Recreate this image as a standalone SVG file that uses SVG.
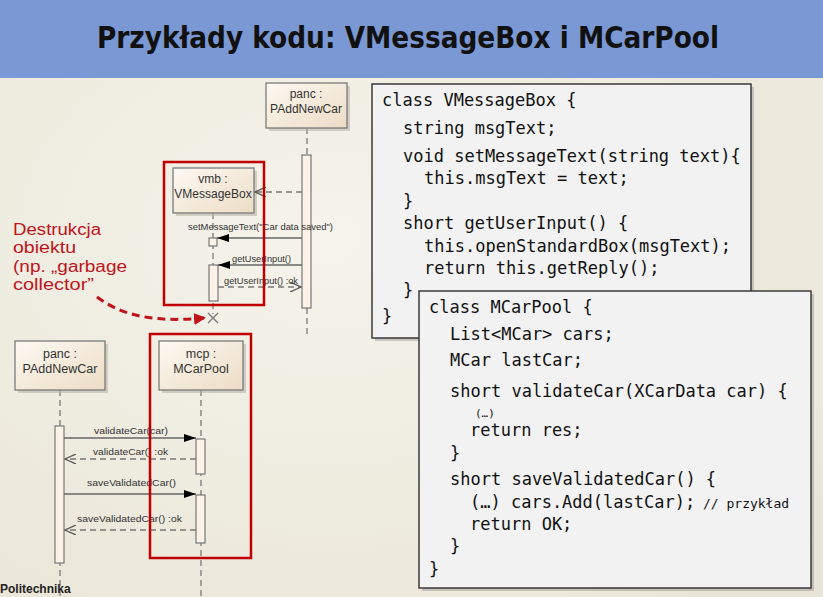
<svg xmlns="http://www.w3.org/2000/svg" width="823" height="597" viewBox="0 0 823 597">
<defs>
<radialGradient id="bg" cx="0.4" cy="0.4" r="0.8">
<stop offset="0" stop-color="#f5f3eb"/>
<stop offset="1" stop-color="#e9e5d6"/>
</radialGradient>
<linearGradient id="part" x1="0" y1="0" x2="1" y2="1">
<stop offset="0" stop-color="#fdf9f2"/>
<stop offset="1" stop-color="#ecdcc5"/>
</linearGradient>
<marker id="filled" viewBox="0 0 12 8" refX="12" refY="4" markerWidth="12" markerHeight="8" markerUnits="userSpaceOnUse" orient="auto">
<path d="M0,0 L12,4 L0,8 z" fill="#000"/>
</marker>
<marker id="open" viewBox="0 0 12 10" refX="11" refY="5" markerWidth="12" markerHeight="10" markerUnits="userSpaceOnUse" orient="auto">
<path d="M0,0 L11,5 L0,10" fill="none" stroke="#555" stroke-width="1.3"/>
</marker>
<marker id="redhead" viewBox="0 0 12 12" refX="10" refY="6" markerWidth="12" markerHeight="12" markerUnits="userSpaceOnUse" orient="auto">
<path d="M0,0 L12,6 L0,12 z" fill="#c0141c"/>
</marker>
<style>
.part{fill:url(#part);stroke:#7a7a7a;stroke-width:1.3}
.shadow{fill:#b9b5aa;opacity:0.6}
.ptxt{font-family:"Liberation Sans",Arial,sans-serif;font-size:12px;fill:#333;text-anchor:middle}
.life{stroke:#888;stroke-width:1.5;stroke-dasharray:6,4;fill:none}
.act{fill:#fdf2e7;stroke:#777;stroke-width:1.2}
.msg{stroke:#666;stroke-width:1.5;fill:none}
.ret{stroke:#777;stroke-width:1.5;stroke-dasharray:6,4;fill:none}
.lbl{font-family:"Liberation Sans",Arial,sans-serif;font-size:9.5px;fill:#333}
.red{fill:none;stroke:#c00000;stroke-width:2.5}
.code{font-family:"DejaVu Sans Mono","Liberation Mono",monospace;font-size:17px;fill:#111}
.box{fill:#f2f2f2;stroke:#3a3a3a;stroke-width:1.5}
.ann{font-family:"Liberation Sans",Arial,sans-serif;font-size:16px;fill:#c0141c}
</style>
</defs>

<rect x="0" y="0" width="823" height="597" fill="url(#bg)"/>
<rect x="0" y="0" width="823" height="78" fill="#7a98d4"/>
<text x="408" y="48" font-family="'DejaVu Sans Condensed','DejaVu Sans',sans-serif" font-weight="bold" font-size="30" fill="#111" text-anchor="middle" textLength="622" lengthAdjust="spacingAndGlyphs">Przykłady kodu: VMessageBox i MCarPool</text>

<!-- lifelines and activations -->
<g id="lifelines">
<line class="life" x1="307" y1="128" x2="307" y2="335"/>
<line class="life" x1="213" y1="213" x2="213" y2="314"/>
<line class="life" x1="60" y1="390" x2="60" y2="597"/>
<line class="life" x1="201" y1="390" x2="201" y2="597"/>
</g>

<g id="act-panc-top"><rect class="act" x="302" y="155" width="9" height="153"/></g>
<g id="act-vmb-1"><rect class="act" x="209" y="238" width="8" height="8"/></g>
<g id="act-vmb-2"><rect class="act" x="209" y="265" width="9" height="36"/></g>
<g id="act-panc-bottom"><rect class="act" x="55" y="426" width="9" height="137"/></g>
<g id="act-mcp-1"><rect class="act" x="196" y="439" width="9" height="35"/></g>
<g id="act-mcp-2"><rect class="act" x="196" y="495" width="9" height="48"/></g>

<!-- participants -->
<g id="panc-top">
<rect class="shadow" x="269" y="86" width="81" height="45"/>
<rect class="part" x="266" y="83" width="81" height="45"/>
<text class="ptxt" x="306" y="98">panc :</text>
<text class="ptxt" x="306" y="113">PAddNewCar</text>
</g>
<g id="vmb">
<rect class="shadow" x="176" y="171" width="81" height="45"/>
<rect class="part" x="173" y="168" width="81" height="45"/>
<text class="ptxt" x="213" y="183">vmb :</text>
<text class="ptxt" x="213" y="198">VMessageBox</text>
</g>
<g id="panc-bottom">
<rect class="shadow" x="18" y="344" width="90" height="49"/>
<rect class="part" x="15" y="341" width="90" height="49"/>
<text class="ptxt" x="60" y="358" style="font-size:12.5px">panc :</text>
<text class="ptxt" x="60" y="373" style="font-size:12.5px">PAddNewCar</text>
</g>
<g id="mcp">
<rect class="shadow" x="162" y="344" width="84" height="49"/>
<rect class="part" x="159" y="341" width="84" height="49"/>
<text class="ptxt" x="201" y="358" style="font-size:12.5px">mcp :</text>
<text class="ptxt" x="201" y="373" style="font-size:12.5px">MCarPool</text>
</g>

<!-- connectors -->
<g id="connectors">
<line class="ret" x1="302" y1="192" x2="255" y2="192" marker-end="url(#open)"/>
<line class="msg" x1="302" y1="238" x2="217" y2="238" marker-end="url(#filled)"/>
<text class="lbl" x="188" y="230" textLength="145" lengthAdjust="spacingAndGlyphs">setMessageText("Car data saved")</text>
<line class="msg" x1="302" y1="265" x2="218" y2="265" marker-end="url(#filled)"/>
<text class="lbl" x="232" y="262" textLength="59" lengthAdjust="spacingAndGlyphs">getUserInput()</text>
<line class="ret" x1="218" y1="287" x2="301" y2="287" marker-end="url(#open)"/>
<text class="lbl" x="224" y="284" textLength="74" lengthAdjust="spacingAndGlyphs">getUserInput() :ok</text>
<path d="M208,313 L218,323 M218,313 L208,323" stroke="#777" stroke-width="1.3"/>

<line class="msg" x1="64" y1="438" x2="196" y2="438" marker-end="url(#filled)"/>
<text class="lbl" x="94" y="434" textLength="74" lengthAdjust="spacingAndGlyphs">validateCar(car)</text>
<line class="ret" x1="196" y1="459" x2="65" y2="459" marker-end="url(#open)"/>
<text class="lbl" x="93" y="455" textLength="75" lengthAdjust="spacingAndGlyphs">validateCar() :ok</text>
<line class="msg" x1="64" y1="494" x2="196" y2="494" marker-end="url(#filled)"/>
<text class="lbl" x="87" y="486" textLength="89" lengthAdjust="spacingAndGlyphs">saveValidatedCar()</text>
<line class="ret" x1="196" y1="530" x2="65" y2="530" marker-end="url(#open)"/>
<text class="lbl" x="77" y="522" textLength="105" lengthAdjust="spacingAndGlyphs">saveValidatedCar() :ok</text>

<path d="M97,297 C125,318 160,322 204,318" fill="none" stroke="#c0141c" stroke-width="3" stroke-dasharray="8,5" marker-end="url(#redhead)"/>
</g>

<!-- highlight frames -->
<g id="frame-vmb"><rect class="red" x="164" y="162" width="100" height="143"/></g>
<g id="frame-mcp"><rect class="red" x="150" y="334" width="101" height="224"/></g>

<!-- annotation -->
<g id="annotation">
<text class="ann" x="13" y="235" textLength="88" lengthAdjust="spacingAndGlyphs">Destrukcja</text>
<text class="ann" x="13" y="253" textLength="63" lengthAdjust="spacingAndGlyphs">obiektu</text>
<text class="ann" x="13" y="272" textLength="114" lengthAdjust="spacingAndGlyphs">(np. „garbage</text>
<text class="ann" x="13" y="290" textLength="81" lengthAdjust="spacingAndGlyphs">collector”</text>
</g>

<!-- code box VMessageBox -->
<g id="code-vmessagebox">
<rect x="375" y="87" width="379" height="254" fill="#9a9a9a" opacity="0.5"/>
<rect class="box" x="372" y="84" width="379" height="254"/>
<text class="code" x="382" y="106">class VMessageBox {</text>
<text class="code" x="403" y="134">string msgText;</text>
<text class="code" x="403" y="162">void setMessageText(string text){</text>
<text class="code" x="424" y="184">this.msgText = text;</text>
<text class="code" x="403" y="207">}</text>
<text class="code" x="403" y="229">short getUserInput() {</text>
<text class="code" x="424" y="252">this.openStandardBox(msgText);</text>
<text class="code" x="424" y="274">return this.getReply();</text>
<text class="code" x="403" y="296">}</text>
<text class="code" x="382" y="322">}</text>
</g>

<!-- code box MCarPool -->
<g id="code-mcarpool">
<rect x="422" y="294" width="392" height="297" fill="#9a9a9a" opacity="0.5"/>
<rect class="box" x="419" y="291" width="392" height="297"/>
<text class="code" x="429" y="313">class MCarPool {</text>
<text class="code" x="450" y="340">List&lt;MCar&gt; cars;</text>
<text class="code" x="450" y="366">MCar lastCar;</text>
<text class="code" x="450" y="397">short validateCar(XCarData car) {</text>
<text class="code" x="475" y="417" style="font-size:11px">(…)</text>
<text class="code" x="470" y="436">return res;</text>
<text class="code" x="450" y="459">}</text>
<text class="code" x="450" y="485">short saveValidatedCar() {</text>
<text class="code" x="470" y="508">(…) cars.Add(lastCar);</text>
<text class="code" x="703" y="508" style="font-size:13px">// przykład</text>
<text class="code" x="470" y="530">return OK;</text>
<text class="code" x="450" y="552">}</text>
<text class="code" x="429" y="575">}</text>
</g>

<text x="0" y="593" font-family="'Liberation Sans',Arial,sans-serif" font-weight="bold" font-size="12" fill="#222">Politechnika</text>
</svg>
